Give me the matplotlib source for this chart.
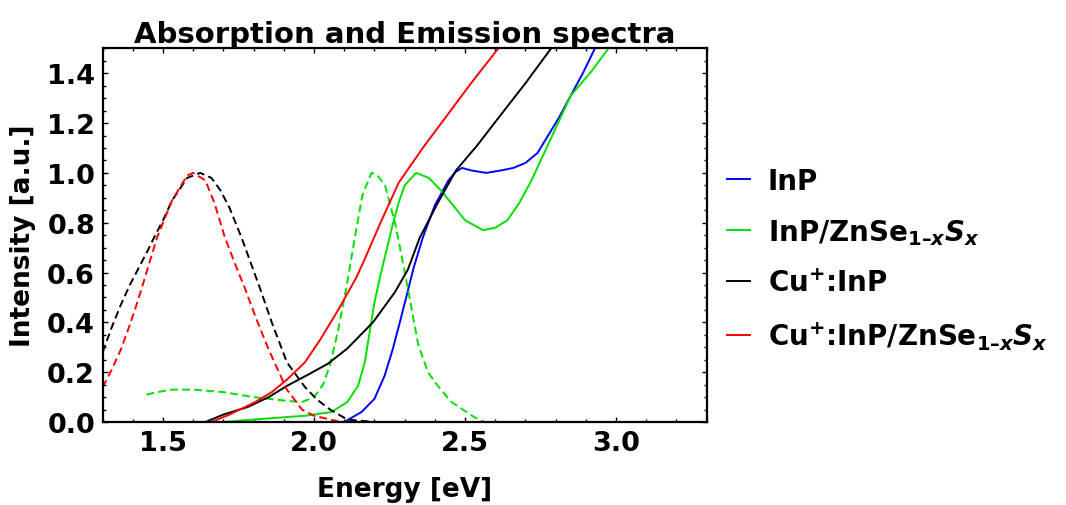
import matplotlib
matplotlib.use("Agg")
import matplotlib.pyplot as plt
from matplotlib.ticker import MultipleLocator
from matplotlib.lines import Line2D

plt.rcParams["font.family"] = ["DejaVu Sans"]
plt.rcParams["font.weight"] = "bold"
plt.rcParams["mathtext.fontset"] = "custom"
plt.rcParams["mathtext.rm"] = "DejaVu Sans:bold"
plt.rcParams["mathtext.it"] = "DejaVu Sans:bold:italic"
plt.rcParams["mathtext.bf"] = "DejaVu Sans:bold"

# --- absorption spectra (solid) ---
inp_abs_e = [2.10, 2.114, 2.157, 2.20, 2.234, 2.26, 2.284, 2.305, 2.33, 2.36, 2.40, 2.445,
             2.47, 2.49, 2.52, 2.57, 2.62, 2.66, 2.70, 2.74, 2.775, 2.81, 2.85, 2.89, 2.93]
inp_abs_i = [0.0, 0.01, 0.04, 0.093, 0.187, 0.29, 0.40, 0.50, 0.62, 0.74, 0.87, 0.97,
             1.005, 1.02, 1.01, 1.0, 1.01, 1.02, 1.04, 1.08, 1.15, 1.22, 1.31, 1.40, 1.50]

zns_abs_e = [1.70, 1.80, 1.91, 1.97, 2.057, 2.11, 2.146, 2.168, 2.184, 2.20, 2.218, 2.24,
             2.26, 2.28, 2.30, 2.338, 2.38, 2.42, 2.44, 2.50, 2.56, 2.60, 2.64, 2.68, 2.72,
             2.785, 2.85, 2.92, 2.975]
zns_abs_i = [0.0, 0.01, 0.02, 0.025, 0.04, 0.08, 0.146, 0.24, 0.36, 0.48, 0.58, 0.69,
             0.79, 0.88, 0.95, 1.0, 0.98, 0.93, 0.90, 0.81, 0.77, 0.78, 0.81, 0.88, 0.97,
             1.14, 1.31, 1.41, 1.50]

cu_abs_e = [1.64, 1.70, 1.78, 1.85, 1.91, 1.98, 2.046, 2.11, 2.195, 2.267, 2.31, 2.35,
            2.41, 2.47, 2.54, 2.61, 2.70, 2.785]
cu_abs_i = [0.0, 0.03, 0.06, 0.10, 0.145, 0.19, 0.234, 0.295, 0.40, 0.52, 0.61, 0.74,
            0.88, 1.01, 1.11, 1.22, 1.36, 1.50]

cuzns_abs_e = [1.66, 1.72, 1.805, 1.86, 1.91, 1.97, 2.02, 2.08, 2.14, 2.17, 2.22, 2.28,
               2.36, 2.44, 2.52, 2.61]
cuzns_abs_i = [0.0, 0.03, 0.08, 0.12, 0.17, 0.24, 0.33, 0.45, 0.58, 0.66, 0.80, 0.96,
               1.10, 1.23, 1.36, 1.50]

# --- emission spectra (dashed) ---
zns_em_e = [1.445, 1.48, 1.53, 1.60, 1.70, 1.80, 1.91, 1.96, 2.00, 2.03, 2.053, 2.08,
            2.107, 2.135, 2.16, 2.19, 2.21, 2.235, 2.27, 2.31, 2.345, 2.377, 2.41, 2.455,
            2.53, 2.565, 2.8, 3.1]
zns_em_i = [0.11, 0.12, 0.13, 0.13, 0.12, 0.10, 0.085, 0.08, 0.10, 0.15, 0.23, 0.37,
            0.54, 0.74, 0.91, 1.0, 0.99, 0.95, 0.79, 0.54, 0.31, 0.20, 0.145, 0.08,
            0.02, 0.0, 0.0, 0.0]

cu_em_e = [1.30, 1.33, 1.36, 1.39, 1.42, 1.45, 1.47, 1.50, 1.53, 1.58, 1.623, 1.66, 1.69,
           1.72, 1.76, 1.79, 1.82, 1.86, 1.91, 1.97, 2.01, 2.053, 2.11, 2.20]
cu_em_i = [0.28, 0.38, 0.47, 0.55, 0.62, 0.69, 0.74, 0.81, 0.89, 0.98, 1.0, 0.98, 0.93,
           0.86, 0.74, 0.64, 0.54, 0.40, 0.24, 0.14, 0.09, 0.05, 0.01, 0.0]

cuzns_em_e = [1.30, 1.33, 1.36, 1.39, 1.42, 1.45, 1.48, 1.53, 1.58, 1.60, 1.64, 1.67, 1.705,
              1.74, 1.77, 1.81, 1.85, 1.91, 1.96, 2.00, 2.09, 2.30, 2.50]
cuzns_em_i = [0.14, 0.21, 0.29, 0.39, 0.50, 0.62, 0.74, 0.89, 0.99, 1.0, 0.97, 0.88, 0.74,
              0.63, 0.54, 0.41, 0.29, 0.13, 0.05, 0.025, 0.0, 0.0, 0.0]

labels = ["InP", "InP/ZnSe$_{1\u2013x}S_x$", "Cu$^{+}$:InP", "Cu$^{+}$:InP/ZnSe$_{1\u2013x}S_x$"]
colors = ["#0000ff", "#00e000", "#000000", "#ff0000"]

fig = plt.figure(figsize=(10.66, 5.06), dpi=100)
ax = fig.add_axes([0.0963, 0.164, 0.5666, 0.7385])

lw = 1.4
dash = (0, (4, 2.2))
ax.plot(inp_abs_e, inp_abs_i, color=colors[0], lw=lw)
ax.plot(zns_em_e, zns_em_i, color=colors[1], lw=lw, linestyle=dash)
ax.plot(zns_abs_e, zns_abs_i, color=colors[1], lw=lw)
ax.plot(cu_em_e, cu_em_i, color=colors[2], lw=lw, linestyle=dash)
ax.plot(cu_abs_e, cu_abs_i, color=colors[2], lw=lw)
ax.plot(cuzns_em_e, cuzns_em_i, color=colors[3], lw=lw, linestyle=dash)
ax.plot(cuzns_abs_e, cuzns_abs_i, color=colors[3], lw=lw)

ax.set_xlim(1.3, 3.3)
ax.set_ylim(0, 1.5)
ax.xaxis.set_major_locator(MultipleLocator(0.5))
ax.xaxis.set_minor_locator(MultipleLocator(0.1))
ax.yaxis.set_major_locator(MultipleLocator(0.2))
ax.yaxis.set_minor_locator(MultipleLocator(0.05))
ax.xaxis.set_major_formatter(lambda v, p: f"{v:.1f}")
ax.yaxis.set_major_formatter(lambda v, p: f"{v:.1f}")
ax.tick_params(which="both", direction="in", top=True, right=True, width=1.0,
               labelsize=19.5, pad=5.5)
ax.tick_params(which="major", length=3.8)
ax.tick_params(which="minor", length=2.2)
for s in ax.spines.values():
    s.set_linewidth(1.6)

ax.set_xlabel("Energy [eV]", fontsize=19, fontweight="bold", labelpad=15)
ax.set_ylabel("Intensity [a.u.]", fontsize=19, fontweight="bold", labelpad=8)
ax.set_title("Absorption and Emission spectra", fontsize=21, fontweight="bold", pad=4)

handles = [Line2D([0], [0], color=c, lw=1.4) for c in colors]
fig.legend(handles, labels, loc="center left", bbox_to_anchor=(0.672, 0.486),
           frameon=False, handlelength=0.8, handletextpad=0.65, borderaxespad=0,
           labelspacing=0.8, prop={"weight": "bold", "size": 20})

fig.savefig("out.png", dpi=100)
